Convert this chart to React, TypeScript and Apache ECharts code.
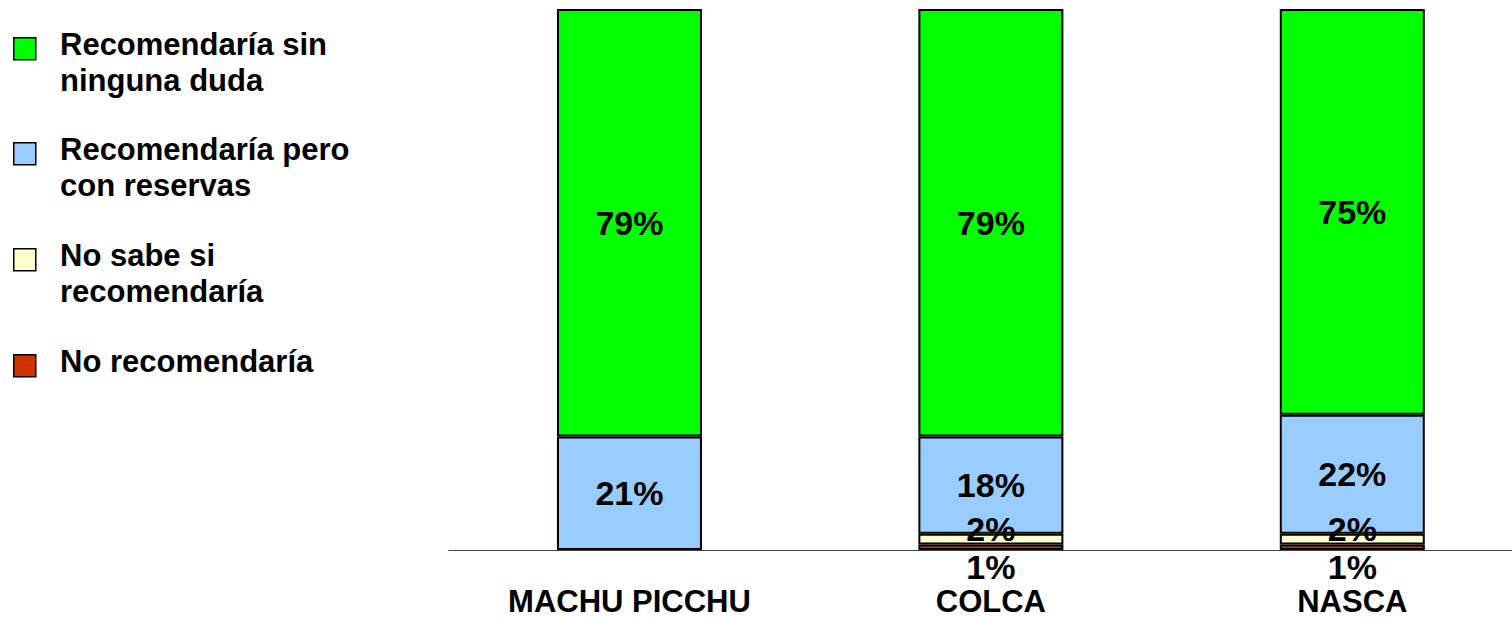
import React, { useEffect, useRef } from "react";
import * as echarts from "echarts";

const categories = ["MACHU PICCHU", "COLCA", "NASCA"];
const seriesNames = [
  "No recomendaría",
  "No sabe si recomendaría",
  "Recomendaría pero con reservas",
  "Recomendaría sin ninguna duda",
];
const noRecomendaria: (number | null)[] = [null, 1, 1];
const noSabe: (number | null)[] = [null, 2, 2];
const conReservas: (number | null)[] = [21, 18, 22];
const sinDuda: (number | null)[] = [79, 79, 75];
const seriesColors = ["#cc3300", "#ffffcc", "#99ccff", "#00ff00"];

const legendLines: string[][] = [
  ["Recomendaría sin", "ninguna duda"],
  ["Recomendaría pero", "con reservas"],
  ["No sabe si", "recomendaría"],
  ["No recomendaría"],
];
const legendColors = ["#00ff00", "#99ccff", "#ffffcc", "#cc3300"];

const FONT = '"Liberation Sans", Arial, sans-serif';

export default function App() {
  const ref = useRef<HTMLDivElement>(null);
  useEffect(() => {
    if (!ref.current) return;
    const chart = echarts.init(ref.current, undefined, { renderer: "svg" });
    const labelBase = {
      show: true,
      formatter: "{c}%",
      color: "#000",
      fontFamily: FONT,
      fontWeight: "bold" as const,
      fontSize: 34,
    };
    const data = [noRecomendaria, noSabe, conReservas, sinDuda];
    const series = data.map((d, i) => {
      let label: any = { ...labelBase, position: "inside" };
      if (i === 0) label = { ...labelBase, position: "bottom", distance: 2, lineHeight: 30 };
      if (i === 1) label = { ...labelBase, position: "inside", offset: [0, -10] };
      return {
        name: seriesNames[i],
        type: "bar",
        stack: "total",
        data: d,
        barWidth: 145,
        itemStyle: { color: seriesColors[i], borderColor: "#000", borderWidth: 2 },
        label,
      };
    });
    const tops = [26, 131, 237, 343];
    const graphic: any[] = [];
    legendLines.forEach((lines, i) => {
      graphic.push({
        type: "rect",
        left: 13,
        top: tops[i] + 11,
        shape: { width: 22, height: 22 },
        style: { fill: legendColors[i], stroke: "#000", lineWidth: 1.5 },
      });
      graphic.push({
        type: "text",
        left: 60,
        top: tops[i],
        style: {
          text: lines.join("\n"),
          fill: "#000",
          font: `bold 31px ${FONT}`,
          lineHeight: 36,
        },
      });
    });
    chart.setOption({
      animation: false,
      grid: { left: 448.75, right: 0, top: 9, bottom: 67, containLabel: false },
      xAxis: {
        type: "category",
        data: categories,
        axisLine: { show: true, lineStyle: { color: "#444", width: 1 } },
        axisTick: { show: false },
        axisLabel: {
          color: "#000",
          fontFamily: FONT,
          fontWeight: "bold",
          fontSize: 31,
          lineHeight: 26,
          margin: 38,
        },
      },
      yAxis: { type: "value", min: 0, max: 100, show: false, splitLine: { show: false } },
      series,
      graphic,
    });
    return () => chart.dispose();
  }, []);
  return (
    <div
      style={{
        position: "absolute",
        left: 0,
        top: 0,
        width: 1512,
        height: 617,
        overflow: "hidden",
        background: "#fff",
      }}
    >
      <div ref={ref} style={{ width: 1533, height: 617 }} />
    </div>
  );
}
